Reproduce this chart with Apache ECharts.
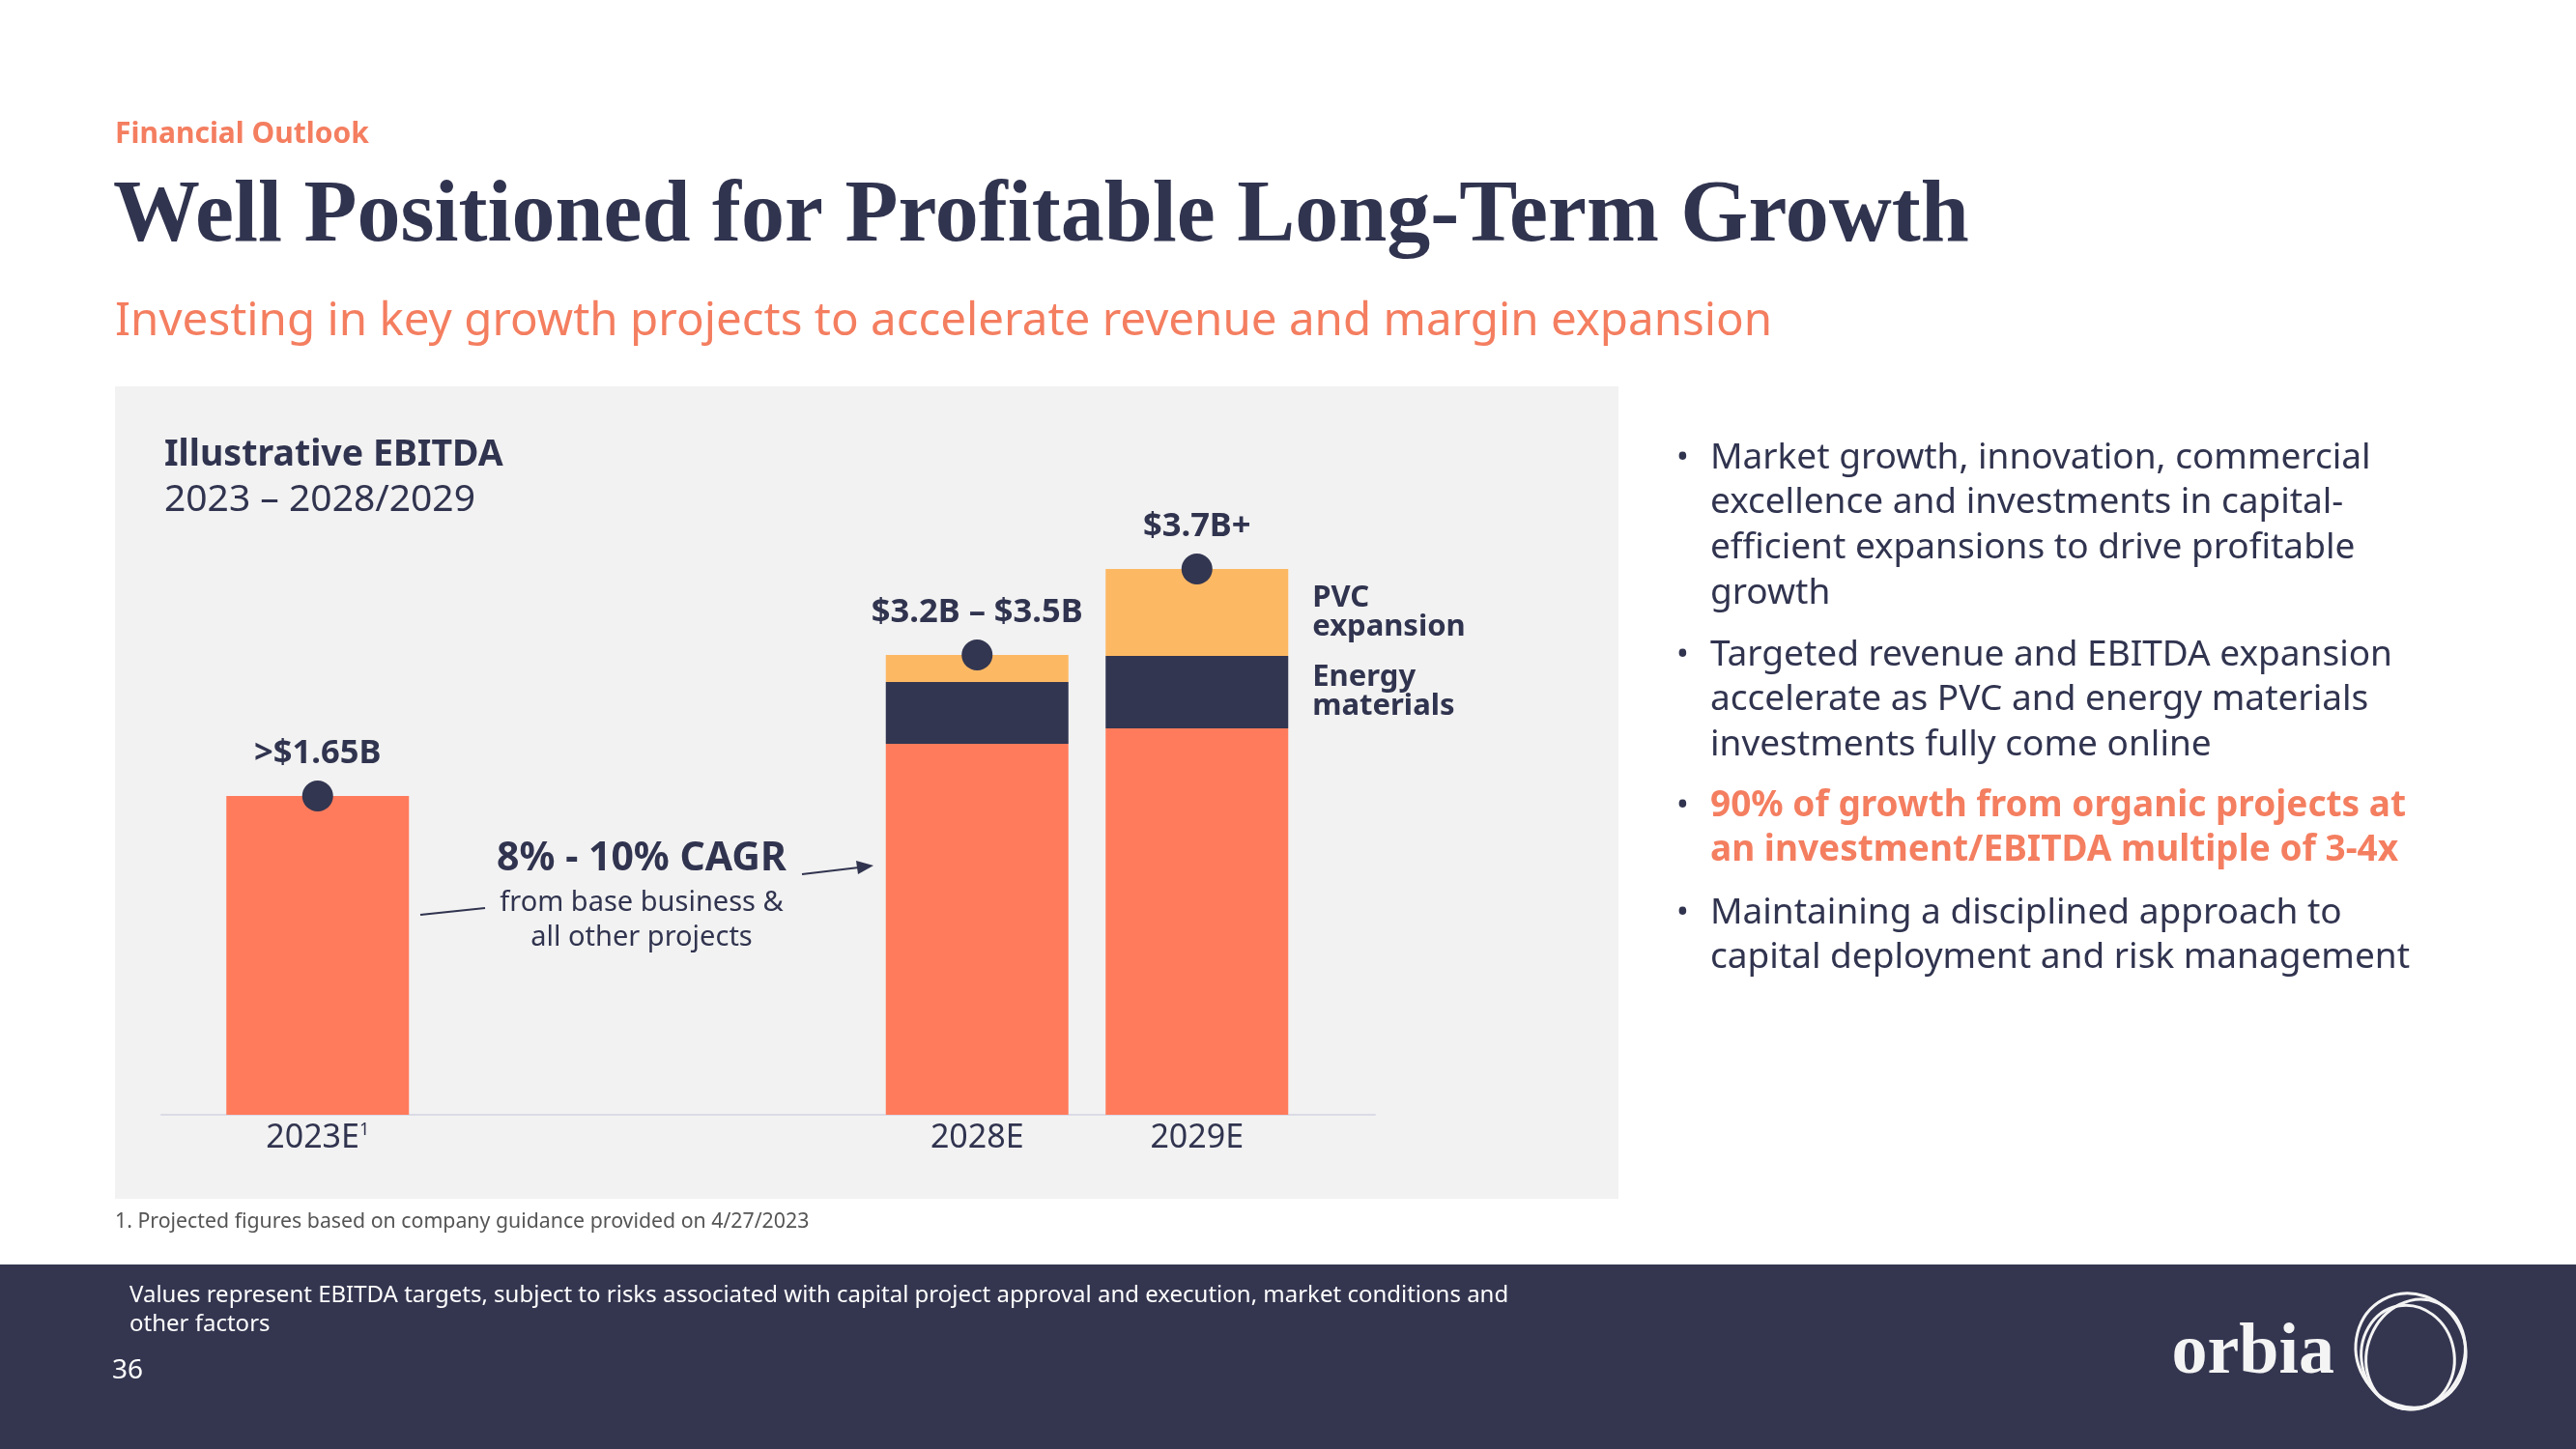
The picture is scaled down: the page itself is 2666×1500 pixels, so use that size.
<!DOCTYPE html>
<html>
<head>
<meta charset="utf-8">
<script src="https://cdn.jsdelivr.net/npm/echarts@6/dist/echarts.min.js"></script>
<style>
html,body{margin:0;padding:0;background:#ffffff;}
#chart{width:2666px;height:1500px;}
</style>
</head>
<body>
<div id="chart"></div>
<script>
// ---- data ----
var categories = ['2023E', '', '', '2028E', '2029E'];
var baseBusiness = [1.65, null, null, 1.92, 2.0];
var energyMaterials = [null, null, null, 0.32, 0.375];
var pvcExpansion = [null, null, null, 0.14, 0.45];
var totalLabels = ['>$1.65B', '', '', '$3.2B \u2013 $3.5B', '$3.7B+'];
var segmentNames = ['Base business', 'Energy\nmaterials', 'PVC\nexpansion'];
var bullets = [
  {lines: ['Market growth, innovation, commercial', 'excellence and investments in capital-', 'efficient expansions to drive profitable', 'growth'], hl: false},
  {lines: ['Targeted revenue and EBITDA expansion', 'accelerate as PVC and energy materials', 'investments fully come online'], hl: false},
  {lines: ['90% of growth from organic projects at', 'an investment/EBITDA multiple of 3-4x'], hl: true},
  {lines: ['Maintaining a disciplined approach to', 'capital deployment and risk management'], hl: false}
];

var ORANGE = '#FF7B5C', NAVY = '#323651', YELLOW = '#FDB863', CORAL = '#F47E60', TEXT = '#31344F';
var SANS = '"Noto Sans", Lato, sans-serif';

var totals = categories.map(function (c, i) {
  if (baseBusiness[i] == null) return null;
  return +(baseBusiness[i] + (energyMaterials[i] || 0) + (pvcExpansion[i] || 0)).toFixed(3);
});

function withSideLabel(arr, name) {
  return arr.map(function (v, i) {
    if (i === arr.length - 1) {
      return {value: v, label: {show: true, position: 'right', distance: 25, formatter: name,
        color: TEXT, fontFamily: SANS, fontWeight: 'bold', fontSize: 31, lineHeight: 30, align: 'left'}};
    }
    return v;
  });
}

// ---- graphics ----
var g = [];
g.push({type: 'rect', z: -10, shape: {x: 119, y: 400, width: 1556, height: 841}, style: {fill: '#F2F2F2'}});
g.push({type: 'rect', z: -10, shape: {x: 0, y: 1309, width: 2666, height: 191}, style: {fill: '#343650'}});
g.push({type: 'text', style: {x: 170, y: 471, text: 'Illustrative EBITDA', font: 'bold 37.5px ' + SANS, fill: TEXT, textVerticalAlign: 'middle'}});
g.push({type: 'text', style: {x: 170, y: 518, text: '2023 \u2013 2028/2029', font: '39px ' + SANS, fill: TEXT, textVerticalAlign: 'middle'}});
// CAGR annotation
g.push({type: 'text', style: {x: 664, y: 889, text: '8% - 10% CAGR', font: 'bold 41px ' + SANS, fill: TEXT, textAlign: 'center', textVerticalAlign: 'middle'}});
g.push({type: 'text', style: {x: 664, y: 935, text: 'from base business &', font: '29px ' + SANS, fill: TEXT, textAlign: 'center', textVerticalAlign: 'middle'}});
g.push({type: 'text', style: {x: 664, y: 971, text: 'all other projects', font: '29px ' + SANS, fill: TEXT, textAlign: 'center', textVerticalAlign: 'middle'}});
g.push({type: 'line', shape: {x1: 435, y1: 947, x2: 502, y2: 940}, style: {stroke: TEXT, lineWidth: 2}});
g.push({type: 'line', shape: {x1: 830, y1: 905, x2: 889, y2: 898}, style: {stroke: TEXT, lineWidth: 2}});
g.push({type: 'polygon', shape: {points: [[904, 896], [888, 905], [886, 891]]}, style: {fill: TEXT}});
// footnote
g.push({type: 'text', style: {x: 119, y: 1265, text: '1. Projected figures based on company guidance provided on 4/27/2023', font: '21.3px ' + SANS, fill: '#555555', textVerticalAlign: 'middle'}});
// footer
g.push({type: 'text', style: {x: 134, y: 1341, text: 'Values represent EBITDA targets, subject to risks associated with capital project approval and execution, market conditions and', font: '24px ' + SANS, fill: '#FFFFFF', textVerticalAlign: 'middle'}});
g.push({type: 'text', style: {x: 134, y: 1371, text: 'other factors', font: '24px ' + SANS, fill: '#FFFFFF', textVerticalAlign: 'middle'}});
g.push({type: 'text', style: {x: 116, y: 1419, text: '36', font: '28px ' + SANS, fill: '#FFFFFF', textVerticalAlign: 'middle'}});
g.push({type: 'text', style: {x: 2416, y: 1402, text: 'orbia', font: 'bold 74px "Liberation Serif", serif', fill: '#F4F4F4', textAlign: 'right', textVerticalAlign: 'middle'}});
g.push({type: 'ellipse', shape: {cx: 2495, cy: 1398, rx: 56, ry: 60}, rotation: 0.5, originX: 2495, originY: 1398, style: {fill: 'none', stroke: '#F4F4F4', lineWidth: 3}});
g.push({type: 'ellipse', shape: {cx: 2500, cy: 1402, rx: 50, ry: 58}, rotation: -0.4, originX: 2500, originY: 1402, style: {fill: 'none', stroke: '#F4F4F4', lineWidth: 3}});
g.push({type: 'ellipse', shape: {cx: 2492, cy: 1405, rx: 48, ry: 54}, rotation: 0.2, originX: 2492, originY: 1405, style: {fill: 'none', stroke: '#F4F4F4', lineWidth: 3}});
// bullets
var bulletTops = [474, 678, 834, 945];
bullets.forEach(function (b, bi) {
  g.push({type: 'text', style: {x: 1735, y: bulletTops[bi], text: '\u2022', font: '34px ' + SANS, fill: TEXT, textVerticalAlign: 'middle'}});
  b.lines.forEach(function (ln, li) {
    g.push({type: 'text', style: {x: 1770, y: bulletTops[bi] + li * 46.7, text: ln,
      font: (b.hl ? 'bold ' : '') + '37px ' + SANS, fill: b.hl ? CORAL : TEXT, textVerticalAlign: 'middle'}});
  });
});

var option = {
  backgroundColor: '#FFFFFF',
  animation: false,
  title: [
    {text: 'Financial Outlook', left: 119, top: 124, padding: 0, textStyle: {color: CORAL, fontFamily: SANS, fontWeight: 'bold', fontSize: 30}},
    {text: 'Well Positioned for Profitable Long-Term Growth', left: 117, top: 181, padding: 0, textStyle: {color: TEXT, fontFamily: '"Liberation Serif", serif', fontWeight: 'bold', fontSize: 90}},
    {text: 'Investing in key growth projects to accelerate revenue and margin expansion', left: 119, top: 309, padding: 0, textStyle: {color: CORAL, fontFamily: SANS, fontWeight: 'normal', fontSize: 47.5}}
  ],
  grid: [
    {left: 215, width: 1137.5, top: 554, bottom: 346},
    {left: 167, width: 1256, top: 554, bottom: 346}
  ],
  xAxis: [
    {type: 'category', gridIndex: 0, data: categories, axisLine: {show: false}, axisTick: {show: false},
      axisLabel: {interval: 0, margin: 7, color: TEXT, fontFamily: SANS, fontSize: 34,
        formatter: function (v) { return v === '2023E' ? v + '{sup|1}' : v; },
        rich: {sup: {fontSize: 18, verticalAlign: 'top', color: TEXT, fontFamily: SANS, padding: [0, 0, 15, 0]}}}},
    {type: 'category', gridIndex: 1, data: [''], axisLine: {show: true, lineStyle: {color: '#DADBE6', width: 2}}, axisTick: {show: false}, axisLabel: {show: false}}
  ],
  yAxis: [
    {type: 'value', gridIndex: 0, min: 0, max: 3, show: false},
    {type: 'value', gridIndex: 1, min: 0, max: 3, show: false}
  ],
  series: [
    {name: segmentNames[0], type: 'bar', stack: 'ebitda', barWidth: 189, data: baseBusiness, itemStyle: {color: ORANGE}},
    {name: 'Energy materials', type: 'bar', stack: 'ebitda', barWidth: 189, data: withSideLabel(energyMaterials, segmentNames[1]), itemStyle: {color: NAVY}},
    {name: 'PVC expansion', type: 'bar', stack: 'ebitda', barWidth: 189, data: withSideLabel(pvcExpansion, segmentNames[2]), itemStyle: {color: YELLOW}},
    {name: 'Total', type: 'scatter', data: totals, symbolSize: 32, z: 10, itemStyle: {color: NAVY, opacity: 1},
      label: {show: true, position: 'top', distance: 10, color: TEXT, fontFamily: SANS, fontWeight: 'bold', fontSize: 34.5,
        formatter: function (p) { return totalLabels[p.dataIndex]; }}}
  ],
  graphic: g
};

var chart = echarts.init(document.getElementById('chart'), null, {renderer: 'canvas'});
chart.setOption(option);
</script>
</body>
</html>
